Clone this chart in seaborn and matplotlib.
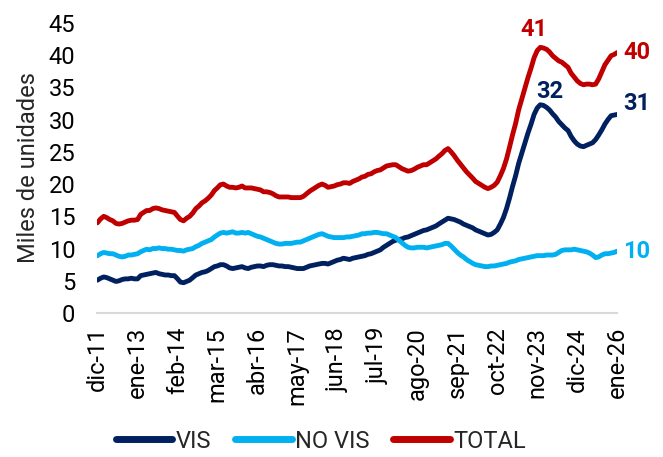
import matplotlib
matplotlib.use("Agg")
import matplotlib.pyplot as plt
import seaborn as sns
import pandas as pd

# meses en español para las etiquetas del eje x
meses = ["ene", "feb", "mar", "abr", "may", "jun",
         "jul", "ago", "sep", "oct", "nov", "dic"]

# miles de unidades, mensual desde dic-11 hasta ene-26
vis = [5.1, 5.4, 5.6, 5.5, 5.3, 5.1, 4.9, 5.0, 5.2, 5.3,
       5.3, 5.4, 5.3, 5.3, 5.8, 5.9, 6.0, 6.1, 6.2, 6.3,
       6.1, 6.0, 5.9, 5.9, 5.8, 5.8, 5.3, 4.8, 4.7, 4.9,
       5.1, 5.5, 5.9, 6.1, 6.3, 6.4, 6.6, 6.9, 7.2, 7.3,
       7.5, 7.5, 7.3, 7.0, 6.9, 7.0, 7.1, 7.2, 7.0, 6.9,
       7.1, 7.2, 7.3, 7.3, 7.2, 7.4, 7.5, 7.5, 7.4, 7.3,
       7.3, 7.2, 7.2, 7.1, 7.0, 6.9, 6.9, 6.9, 7.1, 7.3,
       7.4, 7.5, 7.6, 7.7, 7.7, 7.6, 7.8, 8.0, 8.2, 8.3,
       8.5, 8.4, 8.3, 8.5, 8.6, 8.7, 8.8, 8.9, 9.1, 9.2,
       9.4, 9.6, 9.8, 10.2, 10.5, 10.8, 11.1, 11.3, 11.4, 11.5,
       11.7, 11.8, 12.0, 12.2, 12.4, 12.6, 12.8, 12.9, 13.1, 13.3,
       13.5, 13.8, 14.1, 14.4, 14.7, 14.6, 14.5, 14.3, 14.1, 13.8,
       13.6, 13.4, 13.2, 12.9, 12.7, 12.5, 12.3, 12.1, 12.2, 12.5,
       12.9, 13.8, 14.8, 16.2, 17.9, 19.6, 21.3, 23.2, 24.8, 26.3,
       27.9, 29.3, 30.8, 31.8, 32.3, 32.2, 31.9, 31.5, 30.9, 30.4,
       29.7, 29.2, 28.7, 28.3, 27.4, 26.7, 26.2, 25.9, 25.8, 26.0,
       26.2, 26.4, 26.9, 27.6, 28.4, 29.3, 30.0, 30.6, 30.7, 30.8]

no_vis = [8.9, 9.2, 9.4, 9.3, 9.2, 9.2, 9.0, 8.8, 8.7, 8.8,
          9.0, 9.0, 9.1, 9.2, 9.5, 9.7, 9.9, 9.8, 10.0, 10.0,
          10.1, 10.0, 10.0, 9.9, 9.9, 9.8, 9.7, 9.7, 9.6, 9.8,
          9.9, 10.0, 10.3, 10.5, 10.8, 11.0, 11.2, 11.4, 11.8, 12.1,
          12.4, 12.5, 12.4, 12.5, 12.6, 12.4, 12.4, 12.5, 12.4, 12.5,
          12.3, 12.1, 11.9, 11.8, 11.6, 11.4, 11.2, 11.0, 10.8, 10.7,
          10.7, 10.8, 10.8, 10.8, 10.9, 11.0, 11.0, 11.2, 11.4, 11.6,
          11.8, 12.0, 12.2, 12.3, 12.1, 11.9, 11.8, 11.7, 11.7, 11.7,
          11.7, 11.8, 11.8, 11.9, 12.0, 12.1, 12.3, 12.3, 12.4, 12.4,
          12.5, 12.5, 12.4, 12.3, 12.3, 12.1, 11.9, 11.7, 11.3, 10.9,
          10.5, 10.2, 10.1, 10.1, 10.2, 10.2, 10.2, 10.1, 10.2, 10.3,
          10.4, 10.5, 10.6, 10.8, 10.8, 10.4, 9.9, 9.4, 9.0, 8.7,
          8.3, 8.0, 7.7, 7.5, 7.4, 7.3, 7.2, 7.2, 7.3, 7.3,
          7.4, 7.5, 7.6, 7.7, 7.9, 8.0, 8.1, 8.3, 8.4, 8.5,
          8.6, 8.7, 8.8, 8.9, 8.9, 8.9, 9.0, 9.0, 9.0, 9.1,
          9.4, 9.7, 9.8, 9.8, 9.8, 9.9, 9.8, 9.7, 9.6, 9.5,
          9.3, 9.0, 8.6, 8.7, 9.0, 9.2, 9.2, 9.3, 9.4, 9.6]

# el total es VIS + NO VIS
total = [round(a + b, 1) for a, b in zip(vis, no_vis)]

fechas = pd.date_range("2011-12-01", periods=len(vis), freq="MS")

df = pd.DataFrame({"fecha": fechas, "VIS": vis, "NO VIS": no_vis, "TOTAL": total})
largo = df.melt(id_vars="fecha", var_name="serie", value_name="valor")

colores = {"VIS": "#002060", "NO VIS": "#00B0F0", "TOTAL": "#C00000"}

sns.set_style("white")
plt.rcParams["font.family"] = ["Roboto", "DejaVu Sans"]

fig = plt.figure(figsize=(6.63, 4.57), dpi=100)
ax = fig.add_axes([0.147, 0.315, 0.784, 0.635])

sns.lineplot(data=largo, x="fecha", y="valor", hue="serie", palette=colores,
             linewidth=3.5, ax=ax)

# ejes
ax.set_xlim(fechas[0], fechas[-1])
ax.set_ylim(0, 45)
ax.set_yticks(range(0, 50, 5))
ticks = fechas[::13]
ax.set_xticks(ticks)
ax.set_xticklabels([f"{meses[d.month - 1]}-{d.year % 100:02d}" for d in ticks],
                   rotation=90)
ax.set_xlabel("")
ax.set_ylabel("Miles de unidades", fontsize=17, labelpad=6)

for s in ["left", "right", "top"]:
    ax.spines[s].set_visible(False)
ax.spines["bottom"].set_color("#d9d9d9")
ax.spines["bottom"].set_linewidth(1.5)
ax.tick_params(axis="x", colors="#d9d9d9", length=6, width=1.5,
               labelsize=17, labelcolor="black", pad=4)
ax.tick_params(axis="y", length=0, labelsize=17, labelcolor="black", pad=16)

# etiquetas de valores
i_max = total.index(max(total))
j_max = vis.index(max(vis))
ax.annotate(f"{max(total):.0f}", xy=(fechas[i_max], max(total)), xytext=(-6, 18),
            textcoords="offset pixels", ha="center", va="center",
            fontsize=17, fontweight="bold", color=colores["TOTAL"], annotation_clip=False)
ax.annotate(f"{max(vis):.0f}", xy=(fechas[j_max], max(vis)), xytext=(10, 13),
            textcoords="offset pixels", ha="center", va="center",
            fontsize=17, fontweight="bold", color=colores["VIS"], annotation_clip=False)
finales = [("TOTAL", total[-1], 0), ("VIS", vis[-1], 11), ("NO VIS", no_vis[-1], 0)]
for serie, v, dy in finales:
    ax.annotate(f"{v:.0f}", xy=(fechas[-1], v), xytext=(6, dy),
                textcoords="offset pixels", ha="left", va="center",
                fontsize=17, fontweight="bold", color=colores[serie],
                annotation_clip=False)

# leyenda abajo
sns.move_legend(ax, "center", bbox_to_anchor=(0.484, 0.035),
                bbox_transform=fig.transFigure, ncol=3, frameon=False,
                title=None, fontsize=17, handlelength=2.4,
                handletextpad=0.15, columnspacing=1.0)
for h in ax.get_legend().legend_handles:
    h.set_linewidth(5)

fig.savefig("out.png", dpi=100)
